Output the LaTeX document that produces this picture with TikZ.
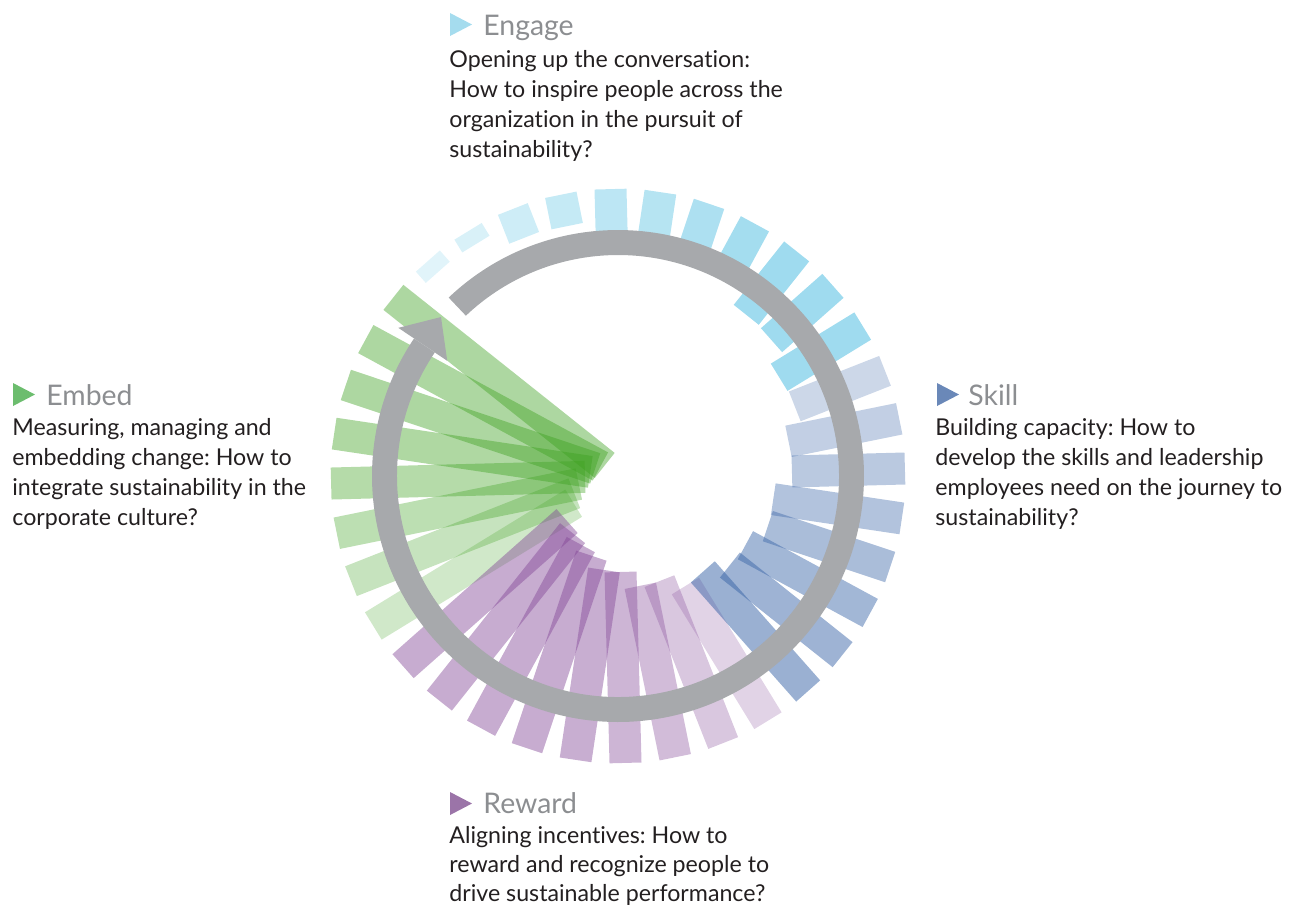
\documentclass[tikz,border=0pt]{standalone}
\usepackage{fontspec}
\setmainfont{Lato}[Ligatures=NoCommon]
\frenchspacing
\definecolor{ringgray}{RGB}{167,169,172}
\definecolor{gbase}{RGB}{60,160,30}
\definecolor{pbase}{RGB}{130,70,150}
\definecolor{bbase}{RGB}{53,97,165}
\definecolor{cbase}{RGB}{80,190,225}
\definecolor{headgray}{RGB}{140,142,145}
\definecolor{bodytext}{RGB}{35,31,32}
\definecolor{triEngage}{RGB}{165,220,238}
\definecolor{triSkill}{RGB}{106,136,184}
\definecolor{triReward}{RGB}{155,116,168}
\definecolor{triEmbed}{RGB}{108,189,110}
\tikzset{
  head/.style={anchor=base west, inner sep=0pt, text=headgray, font=\fontsize{14.2pt}{17pt}\selectfont},
  body/.style={anchor=base west, inner sep=0pt, text=bodytext, font=\fontsize{11.6pt}{15pt}\selectfont},
}
\begin{document}
\begin{tikzpicture}[x=0.5pt,y=0.5pt]
\useasboundingbox (0,0) rectangle (1300,-907);
\begin{scope}[shift={(618,-476)}]
  % Embed (green)
  \foreach \a/\r/\o in {141.5/17/0.42,151.5/20/0.42,161.5/24/0.42,171.5/28/0.41,181.5/33/0.38,191.5/40/0.34,201.5/47/0.29,211.5/52/0.24}
    \fill[gbase, fill opacity=\o, rotate=\a] (\r,-16) rectangle (287,16);
  % Reward (purple)
  \foreach \a/\r/\o in {221.5/68/0.45,231.5/73/0.45,241.5/78/0.45,251.5/84/0.45,261.5/95/0.44,271.5/96/0.40,281.5/112/0.36,291.5/113/0.30,301.5/129/0.24}
    \fill[pbase, fill opacity=\o, rotate=\a] (\r,-16) rectangle (287,16);
  % Skill (blue)
  \foreach \a/\r/\o in {311.5/128/0.5,321.5/143/0.48,331.5/145/0.46,341.5/158/0.42,351.5/157/0.38,1.5/174/0.34,11.5/174/0.30,21.5/190/0.25}
    \fill[bbase, fill opacity=\o, rotate=\a] (\r,-16) rectangle (287,16);
  % Engage (cyan)
  \foreach \a/\r/\o in {31.5/189/0.55,41.5/205/0.55,51.5/206/0.55,61.5/222/0.52,71.5/222/0.47,81.5/239/0.42,91.5/239/0.38,101.5/255/0.33,111.5/256/0.28,121.5/272/0.22,131.5/272/0.17}
    \fill[cbase, fill opacity=\o, rotate=\a] (\r,-16) rectangle (287,16);
  % ring with arrow
  \fill[ringgray] (133.5:246) arc[start angle=133.5, end angle=-214, radius=246]
     -- (-214:221) arc[start angle=-214, end angle=133.5, radius=221] -- cycle;
  \fill[ringgray] (146:265) -- (-177,159) -- (146:206) -- cycle;
\end{scope}
% markers
\fill[triEngage] (450,-13) -- (472,-24.5) -- (450,-36) -- cycle;
\fill[triSkill]  (937,-383) -- (959,-394.5) -- (937,-406) -- cycle;
\fill[triReward] (450,-792) -- (472,-803.5) -- (450,-815) -- cycle;
\fill[triEmbed]  (13,-383) -- (35,-394.5) -- (13,-406) -- cycle;
% Engage
\node[head] (engage) at (483,-35) {Engage};
\node[body] (engage1) at (449,-67) {Opening up the conversation:};
\node[body] (engage2) at (449,-97) {How to inspire people across the};
\node[body] (engage3) at (449,-127) {organization in the pursuit of};
\node[body] (engage4) at (449,-157) {sustainability?};
% Skill
\node[head] (skill) at (968,-405) {Skill};
\node[body] (skill1) at (935,-435) {Building capacity: How to};
\node[body] (skill2) at (935,-465) {develop the skills and leadership};
\node[body] (skill3) at (935,-495) {employees need on the journey to};
\node[body] (skill4) at (935,-525) {sustainability?};
% Embed
\node[head] (embed) at (46,-405) {Embed};
\node[body] (embed1) at (12,-435) {Measuring, managing and};
\node[body] (embed2) at (12,-465) {embedding change: How to};
\node[body] (embed3) at (12,-495) {integrate sustainability in the};
\node[body] (embed4) at (12,-525) {corporate culture?};
% Reward
\node[head] (reward) at (483,-813) {Reward};
\node[body] (reward1) at (449,-843) {Aligning incentives: How to};
\node[body] (reward2) at (449,-872) {reward and recognize people to};
\node[body] (reward3) at (449,-901) {drive sustainable performance?};
\end{tikzpicture}
\end{document}
